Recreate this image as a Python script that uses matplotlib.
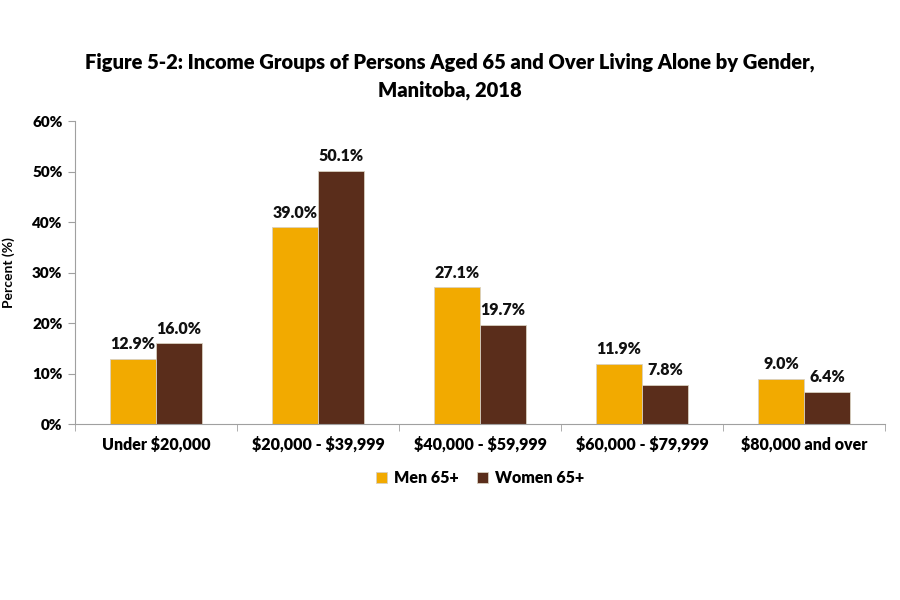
import matplotlib
matplotlib.use("Agg")
import matplotlib.pyplot as plt
import numpy as np

# === data ===
categories = ["Under $20,000", "$20,000 - $39,999", "$40,000 - $59,999",
              "$60,000 - $79,999", "$80,000 and over"]
men = [12.9, 39.0, 27.1, 11.9, 9.0]
women = [16.0, 50.1, 19.7, 7.8, 6.4]
series_names = ["Men 65+", "Women 65+"]

plt.rcParams['font.family'] = ['Lato', 'DejaVu Sans']
plt.rcParams['font.weight'] = 'bold'
plt.rcParams['text.parse_math'] = False

fig = plt.figure(figsize=(9, 6), dpi=100)
ax = fig.add_axes([0.0833, 0.2933, 0.9, 0.505])

x = np.arange(len(categories))
w = 0.285
b1 = ax.bar(x - w / 2, men, w, color="#F2AA00", edgecolor="#d8d0c0", linewidth=0.6, label=series_names[0])
b2 = ax.bar(x + w / 2, women, w, color="#5A2D1B", edgecolor="#d8d0c0", linewidth=0.6, label=series_names[1])

for bars, vals in [(b1, men), (b2, women)]:
    for r, v in zip(bars, vals):
        ax.text(r.get_x() + r.get_width() / 2, v + 1.3, f"{v:.1f}%", ha="center", va="bottom",
                fontsize=11.5, fontweight="heavy", color="#111111")

ax.set_ylim(0, 60)
ax.set_xlim(-0.5, len(categories) - 0.5)
ax.set_yticks(range(0, 61, 10))
ax.set_yticklabels([f"{v}%" for v in range(0, 61, 10)], fontsize=11, fontweight="heavy")
ax.set_xticks(x)
ax.set_xticklabels(categories, fontsize=11.5, fontweight="heavy")
ax.tick_params(axis="x", length=0, pad=9)
ax.set_xticks(np.arange(-0.5, len(categories)), minor=True)
ax.tick_params(axis="x", which="minor", length=5, color="#a0a0a0")
ax.tick_params(axis="y", length=5, color="#a0a0a0", pad=4)
for s in ["top", "right"]:
    ax.spines[s].set_visible(False)
for s in ["left", "bottom"]:
    ax.spines[s].set_color("#a0a0a0")

ax.set_ylabel("Percent (%)", fontsize=10, fontweight="bold", labelpad=12)

fig.text(0.5, 0.873, "Figure 5-2: Income Groups of Persons Aged 65 and Over Living Alone by Gender,\nManitoba, 2018",
         ha="center", va="center", fontsize=14.5, fontweight="heavy", linespacing=1.5)

ax.legend(loc="upper center", bbox_to_anchor=(0.5, -0.105), ncol=2, frameon=False,
          prop={"size": 11.5, "weight": "heavy"}, handlelength=0.7, handleheight=0.7,
          columnspacing=1.2, handletextpad=0.4)

fig.savefig("out.png", dpi=100)
